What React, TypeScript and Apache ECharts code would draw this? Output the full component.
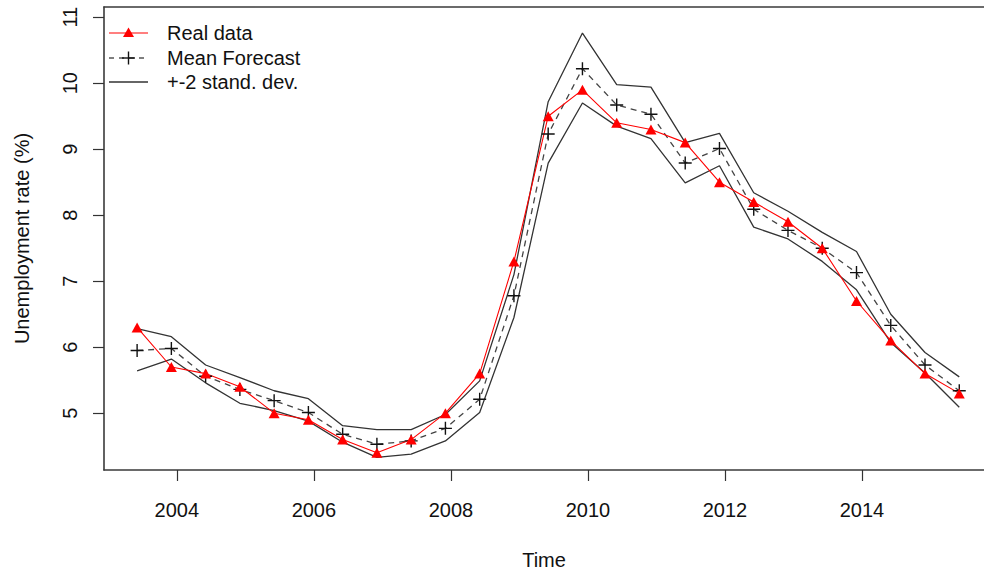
import React, { useEffect, useRef } from "react";
import * as echarts from "echarts";

// Half-yearly observation times (decimal years)
const TIME = [
  2003.42, 2003.92, 2004.42, 2004.92, 2005.42, 2005.92, 2006.42, 2006.92,
  2007.42, 2007.92, 2008.42, 2008.92, 2009.42, 2009.92, 2010.42, 2010.92,
  2011.42, 2011.92, 2012.42, 2012.92, 2013.42, 2013.92, 2014.42, 2014.92,
  2015.42,
];

// Observed unemployment rate (%)
const REAL = [
  6.3, 5.7, 5.6, 5.4, 5.0, 4.9, 4.6, 4.4, 4.6, 5.0, 5.6, 7.3, 9.5, 9.9, 9.4,
  9.3, 9.1, 8.5, 8.2, 7.9, 7.5, 6.7, 6.1, 5.6, 5.3,
];

// Mean of the forecast distribution
const MEAN = [
  5.95, 5.98, 5.56, 5.36, 5.19, 5.01, 4.68, 4.53, 4.58, 4.77, 5.21, 6.78,
  9.23, 10.22, 9.67, 9.53, 8.79, 9.01, 8.09, 7.77, 7.5, 7.13, 6.33, 5.73,
  5.34,
];

// Mean + 2 standard deviations
const UPPER = [
  6.28, 6.16, 5.73, 5.54, 5.34, 5.22, 4.81, 4.75, 4.75, 4.98, 5.49, 7.1,
  9.72, 10.76, 9.98, 9.94, 9.1, 9.24, 8.34, 8.06, 7.74, 7.45, 6.5, 5.92,
  5.55,
];

// Mean - 2 standard deviations
const LOWER = [
  5.64, 5.82, 5.46, 5.15, 5.04, 4.88, 4.56, 4.33, 4.38, 4.58, 5.01, 6.45,
  8.79, 9.7, 9.35, 9.16, 8.49, 8.75, 7.82, 7.64, 7.3, 6.87, 6.07, 5.61,
  5.09,
];

const X_TICKS = [2004, 2006, 2008, 2010, 2012, 2014];
const Y_TICKS = [5, 6, 7, 8, 9, 10, 11];

const LEGEND_LABELS = ["Real data", "Mean Forecast", "+-2 stand. dev."];

const FONT = "'Liberation Sans', Arial, Helvetica, sans-serif";
const PLUS = "path://M0,5L10,5M5,0L5,10";

// Visible time range; the plot box continues past the right edge of the page
const X_MIN = 2002.9367;
const X_MAX = 2015.781;

const pairs = (ys: number[]) => TIME.map((t, i) => [t, ys[i]]);

export default function App() {
  const ref = useRef<HTMLDivElement>(null);

  useEffect(() => {
    if (!ref.current) return;
    const chart = echarts.init(ref.current, undefined, { renderer: "svg" });

    const boxLine = { color: "#3a3a3a", width: 1.6 };
    const bandStyle = { color: "#333", width: 1.3 };
    const legendY = [33, 58, 82];

    chart.setOption({
      animation: false,
      backgroundColor: "#fff",
      textStyle: { fontFamily: FONT },
      grid: {
        left: 104,
        top: 7,
        right: 0,
        bottom: 104,
        show: false,
      },
      xAxis: [
        {
          type: "value",
          min: X_MIN,
          max: X_MAX,
          name: "Time",
          nameLocation: "middle",
          nameGap: 80,
          nameTextStyle: { fontSize: 20, color: "#111", fontFamily: FONT },
          splitLine: { show: false },
          axisLine: { show: true, onZero: false, lineStyle: boxLine },
          axisTick: {
            show: true,
            length: 11,
            customValues: X_TICKS,
            lineStyle: { color: "#333", width: 1.2 },
          },
          axisLabel: {
            customValues: X_TICKS,
            formatter: (v: number) => String(v),
            fontSize: 20,
            color: "#111",
            margin: 30,
            fontFamily: FONT,
          },
        },
        {
          // top edge of the plot box
          type: "value",
          position: "top",
          min: X_MIN,
          max: X_MAX,
          splitLine: { show: false },
          axisLine: { show: true, onZero: false, lineStyle: boxLine },
          axisTick: { show: false },
          axisLabel: { show: false },
        },
      ],
      yAxis: {
        type: "value",
        min: 4.139,
        max: 11.155,
        name: "Unemployment rate (%)",
        nameLocation: "middle",
        nameRotate: 90,
        nameGap: 72,
        nameTextStyle: { fontSize: 20, color: "#111", fontFamily: FONT },
        splitLine: { show: false },
        axisLine: { show: true, onZero: false, lineStyle: boxLine },
        axisTick: {
          show: true,
          length: 11,
          customValues: Y_TICKS,
          lineStyle: { color: "#333", width: 1.2 },
        },
        axisLabel: {
          customValues: Y_TICKS,
          rotate: 90,
          fontSize: 20,
          color: "#111",
          margin: 24,
          fontFamily: FONT,
        },
      },
      series: [
        {
          name: "upper",
          type: "line",
          data: pairs(UPPER),
          showSymbol: false,
          lineStyle: bandStyle,
          silent: true,
        },
        {
          name: "lower",
          type: "line",
          data: pairs(LOWER),
          showSymbol: false,
          lineStyle: bandStyle,
          silent: true,
        },
        {
          name: "Mean Forecast",
          type: "line",
          data: pairs(MEAN),
          symbol: PLUS,
          symbolSize: 13,
          itemStyle: { color: "transparent", borderColor: "#111", borderWidth: 1.4 },
          lineStyle: { color: "#444", width: 1.3, type: [6, 5] },
          silent: true,
        },
        {
          name: "Real data",
          type: "line",
          data: pairs(REAL),
          symbol: "triangle",
          symbolSize: [11, 10],
          itemStyle: { color: "#ff0000" },
          lineStyle: { color: "#ff0000", width: 1.1 },
          silent: true,
        },
      ],
      graphic: [
        // legend: real data
        {
          type: "line",
          shape: { x1: 109, y1: legendY[0], x2: 148, y2: legendY[0] },
          style: { stroke: "#ff0000", lineWidth: 1.1 },
        },
        {
          type: "polygon",
          shape: {
            points: [
              [128.5, legendY[0] - 5.5],
              [134, legendY[0] + 4],
              [123, legendY[0] + 4],
            ],
          },
          style: { fill: "#ff0000" },
        },
        // legend: mean forecast
        {
          type: "line",
          shape: { x1: 109, y1: legendY[1], x2: 148, y2: legendY[1] },
          style: { stroke: "#555", lineWidth: 1.3, lineDash: [5, 5] },
        },
        {
          type: "line",
          shape: { x1: 122, y1: legendY[1], x2: 135, y2: legendY[1] },
          style: { stroke: "#111", lineWidth: 1.4 },
        },
        {
          type: "line",
          shape: { x1: 128.5, y1: legendY[1] - 6.5, x2: 128.5, y2: legendY[1] + 6.5 },
          style: { stroke: "#111", lineWidth: 1.4 },
        },
        // legend: band
        {
          type: "line",
          shape: { x1: 109, y1: legendY[2], x2: 148, y2: legendY[2] },
          style: { stroke: "#333", lineWidth: 1.3 },
        },
        ...LEGEND_LABELS.map((label, i) => ({
          type: "text",
          x: 167,
          y: legendY[i],
          style: {
            text: label,
            fontSize: 20,
            fontFamily: FONT,
            fill: "#111",
            verticalAlign: "middle",
          },
        })),
      ],
    });

    return () => chart.dispose();
  }, []);

  return (
    <div
      ref={ref}
      style={{ position: "fixed", left: 0, top: 0, width: 984, height: 575 }}
    />
  );
}
